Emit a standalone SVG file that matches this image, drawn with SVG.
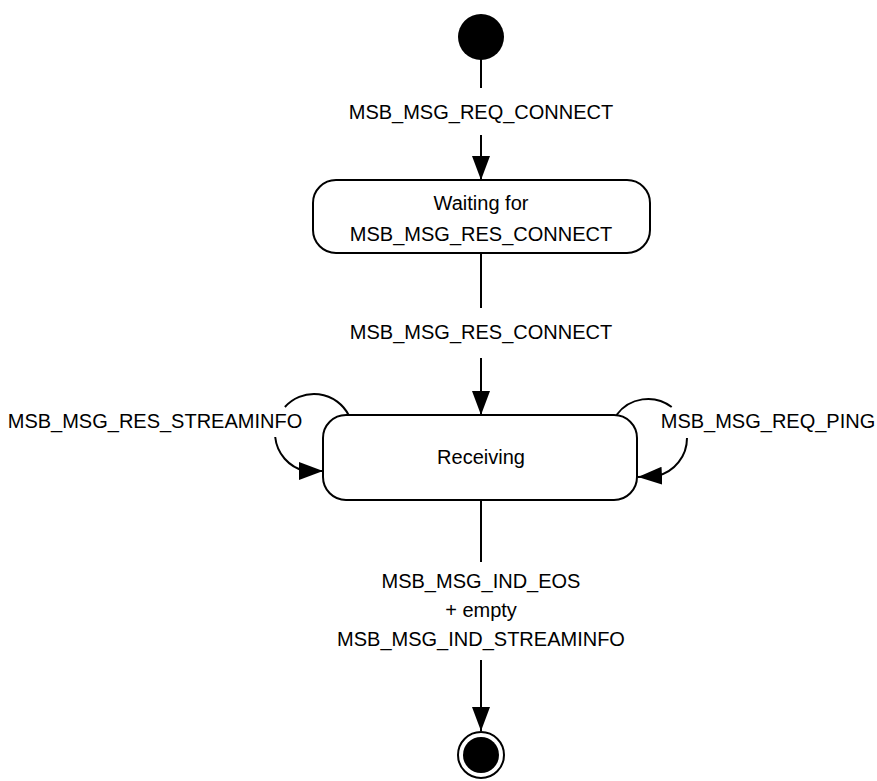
<svg xmlns="http://www.w3.org/2000/svg" width="877" height="781" viewBox="0 0 877 781">
  <style>
    text { font-family: "Liberation Sans", Arial, sans-serif; font-size: 20px; fill: #000; }
    .c { text-anchor: middle; }
    .state { fill: #fff; stroke: #000; stroke-width: 2; }
    .conn { fill: none; stroke: #000; stroke-width: 2; }
  </style>
  <defs>
    <marker id="arrow" markerUnits="userSpaceOnUse" markerWidth="25" markerHeight="18" refX="24" refY="9" orient="auto" viewBox="0 0 25 18">
      <path d="M0,0 L24,9 L0,18 z" fill="#000"/>
    </marker>
  </defs>
  <rect width="877" height="781" fill="#fff"/>

  <g id="connectors">
    <path class="conn" d="M481,59 V88 M481,135 V180" marker-end="url(#arrow)"/>
    <path class="conn" d="M481,253 V308 M481,358 V415" marker-end="url(#arrow)"/>
    <path class="conn" d="M348.6,415 A39,39 0 0 0 284.9,407 M275.2,437 A39,39 0 0 0 305,471 L323,471" marker-end="url(#arrow)"/>
    <path class="conn" d="M616.5,415 A39,39 0 0 1 671.7,407 M687,438 A39,39 0 0 1 657,476 L638,477" marker-end="url(#arrow)"/>
    <path class="conn" d="M481,500 V562 M481,660 V731" marker-end="url(#arrow)"/>
  </g>

  <g id="labels">
    <text class="c" x="481" y="119">MSB_MSG_REQ_CONNECT</text>
    <text class="c" x="481" y="339">MSB_MSG_RES_CONNECT</text>
    <text class="c" x="155" y="428">MSB_MSG_RES_STREAMINFO</text>
    <text class="c" x="768" y="428">MSB_MSG_REQ_PING</text>
    <text class="c" x="481" y="588">MSB_MSG_IND_EOS</text>
    <text class="c" x="481" y="617">+ empty</text>
    <text class="c" x="481" y="646">MSB_MSG_IND_STREAMINFO</text>
  </g>

  <g id="initial">
    <circle cx="481" cy="37" r="23" fill="#000"/>
  </g>

  <g id="waiting">
    <rect class="state" x="313" y="180" width="337" height="73" rx="23" ry="23"/>
    <text class="c" x="481" y="210">Waiting for</text>
    <text class="c" x="481" y="241">MSB_MSG_RES_CONNECT</text>
  </g>

  <g id="receiving">
    <rect class="state" x="323" y="415" width="314" height="85" rx="23" ry="23"/>
    <text class="c" x="481" y="464">Receiving</text>
  </g>

  <g id="final">
    <circle cx="481" cy="755" r="23" fill="#fff" stroke="#000" stroke-width="2"/>
    <circle cx="481" cy="755" r="18" fill="#000"/>
  </g>
</svg>
